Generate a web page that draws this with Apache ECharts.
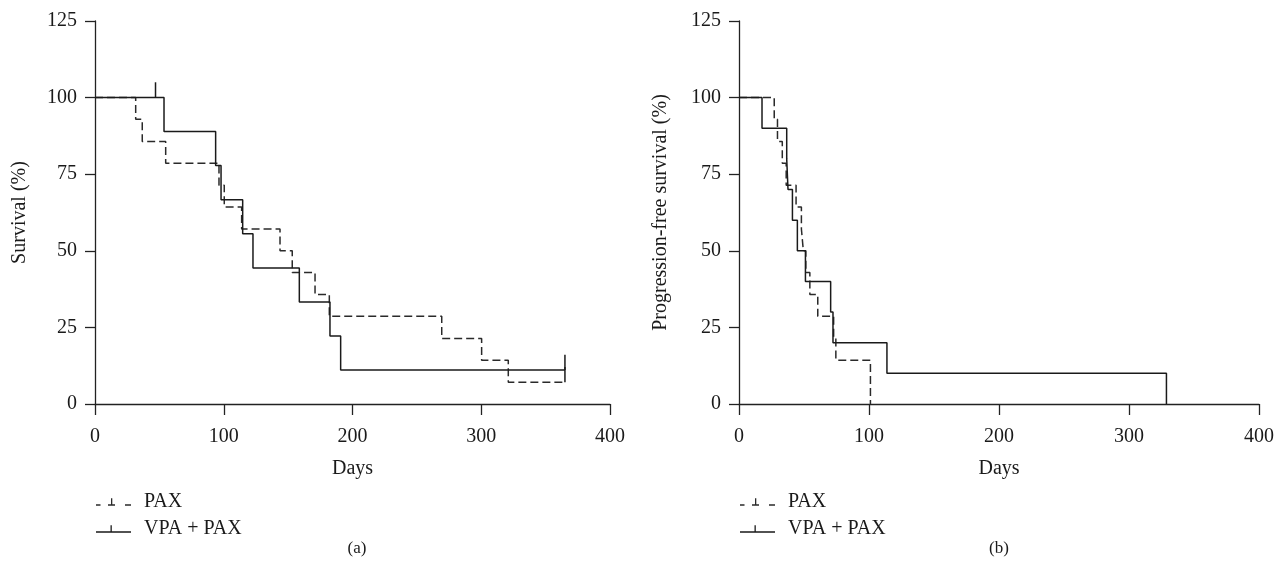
<!DOCTYPE html>
<html>
<head>
<meta charset="utf-8">
<script src="https://cdn.jsdelivr.net/npm/echarts@6/dist/echarts.min.js"></script>
<style>
html,body{margin:0;padding:0;background:#fff;}
#c{width:1281px;height:574px;}
</style>
</head>
<body>
<div id="c"></div>
<script>
// ---- data (a) overall survival ----
var osPaxDays = [0, 31.6, 36.7, 54.9, 96.3, 100.4, 113.9, 143.7, 153.2, 170.9, 182, 269.3, 300.3, 321, 365];
var osPaxSurv = [100, 92.9, 85.7, 78.6, 71.4, 64.3, 57.1, 50, 42.9, 35.7, 28.6, 21.4, 14.3, 7.1, 7.1];
var osVpaDays = [0, 53.6, 93.7, 97.9, 114.7, 122.7, 158.7, 182.5, 190.8, 365];
var osVpaSurv = [100, 88.9, 77.8, 66.7, 55.6, 44.4, 33.3, 22.2, 11.1, 11.1];
var osVpaCensorDays = [47, 365];
var osVpaCensorSurv = [100, 11.1];
var osPaxCensorDays = [365];
var osPaxCensorSurv = [7.1];

// ---- data (b) progression-free survival ----
var pfsPaxDays = [0, 27.1, 29.6, 33.3, 36.3, 43.9, 48, 49.5, 51.4, 54.5, 60.6, 72.8, 74.5, 101.1];
var pfsPaxSurv = [100, 92.9, 85.7, 78.6, 71.4, 64.3, 57.1, 50, 42.9, 35.7, 28.6, 21.4, 14.3, 0];
var pfsVpaDays = [0, 17.7, 36.7, 37.7, 41.1, 44.9, 51.1, 70.5, 72.3, 113.8, 328.8];
var pfsVpaSurv = [100, 90, 80, 70, 60, 50, 40, 30, 20, 10, 0];

var xTicks = [0, 100, 200, 300, 400];
var yTicks = [0, 25, 50, 75, 100, 125];
var yNames = ['Survival (%)', 'Progression-free survival (%)'];
var xName = 'Days';
var panelLabels = ['(a)', '(b)'];
var seriesNames = ['PAX', 'VPA + PAX'];

function zip(a, b) { return a.map(function (v, i) { return [v, b[i]]; }); }

var FONT = 'Liberation Serif';
var FS = 20;
var SOLID = '#1a1a1a';
var DASH = '#2a2a2a';
var TXT = '#1a1a1a';

function xAxis(gi) {
  return {
    type: 'value', gridIndex: gi, min: xTicks[0], max: xTicks[xTicks.length - 1], interval: 100,
    name: xName, nameLocation: 'middle', nameGap: 55,
    nameTextStyle: { fontFamily: FONT, fontSize: FS, color: TXT },
    axisLine: { show: true, lineStyle: { color: '#222', width: 1.3 } },
    axisTick: { show: true, inside: false, length: 11, lineStyle: { color: '#222', width: 1.3 } },
    axisLabel: { fontFamily: FONT, fontSize: FS, color: TXT, margin: 23 },
    splitLine: { show: false }
  };
}
function yAxis(gi) {
  return {
    type: 'value', gridIndex: gi, min: yTicks[0], max: yTicks[yTicks.length - 1], interval: 25,
    name: yNames[gi], nameLocation: 'middle', nameGap: gi === 0 ? 65 : 68,
    nameTextStyle: { fontFamily: FONT, fontSize: FS, color: TXT },
    axisLine: { show: true, lineStyle: { color: '#222', width: 1.3 } },
    axisTick: { show: true, inside: false, length: 10, lineStyle: { color: '#222', width: 1.3 } },
    axisLabel: { fontFamily: FONT, fontSize: FS, color: TXT, margin: 18 },
    splitLine: { show: false }
  };
}

function stepSeries(name, gi, days, surv, dashed) {
  return {
    name: name, type: 'line', step: 'end', xAxisIndex: gi, yAxisIndex: gi,
    data: zip(days, surv), symbol: 'none', silent: true, animation: false,
    color: dashed ? DASH : SOLID,
    lineStyle: { color: dashed ? DASH : SOLID, width: 1.5, type: dashed ? [8, 4] : 'solid' }
  };
}

function censorSeries(name, gi, days, surv, dashed) {
  return {
    name: name, type: 'custom', xAxisIndex: gi, yAxisIndex: gi,
    data: zip(days, surv), silent: true, animation: false,
    renderItem: function (params, api) {
      var p0 = api.coord([api.value(0), api.value(1)]);
      var p1 = api.coord([api.value(0), api.value(1) + 5]);
      return {
        type: 'line',
        shape: { x1: p0[0], y1: p0[1], x2: p1[0], y2: p1[1] },
        style: { stroke: dashed ? DASH : SOLID, lineWidth: 1.5, lineDash: dashed ? [4, 2] : null }
      };
    }
  };
}

var iconPax = 'path://M0,6h4.5v1.3h-4.5z M12,6h7v1.3h-7z M15,0h1.3v6h-1.3z M29,6h6v1.3h-6z';
var iconVpa = 'path://M0,6h35v1.3h-35z M14.5,0h1.3v6h-1.3z';

function legend(left) {
  return {
    orient: 'vertical', left: left, top: 492, padding: 0, itemWidth: 35, itemHeight: 7.3, itemGap: 7,
    selectedMode: false,
    textStyle: { fontFamily: FONT, fontSize: FS, color: TXT, padding: [0, 0, 0, 8] },
    data: [{ name: seriesNames[0], icon: iconPax }, { name: seriesNames[1], icon: iconVpa }]
  };
}

var option = {
  backgroundColor: '#fff',
  animation: false,
  grid: [
    { left: 95, top: 21, width: 515, height: 383 },
    { left: 739, top: 21, width: 520, height: 383 }
  ],
  xAxis: [xAxis(0), xAxis(1)],
  yAxis: [yAxis(0), yAxis(1)],
  legend: [legend(96), legend(740)],
  graphic: [
    { type: 'text', x: 357, y: 549, style: { text: panelLabels[0], font: '17px "' + FONT + '"', fill: TXT, align: 'center', verticalAlign: 'middle' } },
    { type: 'text', x: 999, y: 549, style: { text: panelLabels[1], font: '17px "' + FONT + '"', fill: TXT, align: 'center', verticalAlign: 'middle' } }
  ],
  series: [
    stepSeries(seriesNames[0], 0, osPaxDays, osPaxSurv, true),
    stepSeries(seriesNames[1], 0, osVpaDays, osVpaSurv, false),
    censorSeries('censor-vpa-a', 0, osVpaCensorDays, osVpaCensorSurv, false),
    censorSeries('censor-pax-a', 0, osPaxCensorDays, osPaxCensorSurv, false),
    stepSeries(seriesNames[0], 1, pfsPaxDays, pfsPaxSurv, true),
    stepSeries(seriesNames[1], 1, pfsVpaDays, pfsVpaSurv, false)
  ]
};

var chart = echarts.init(document.getElementById('c'));
chart.setOption(option);
</script>
</body>
</html>
